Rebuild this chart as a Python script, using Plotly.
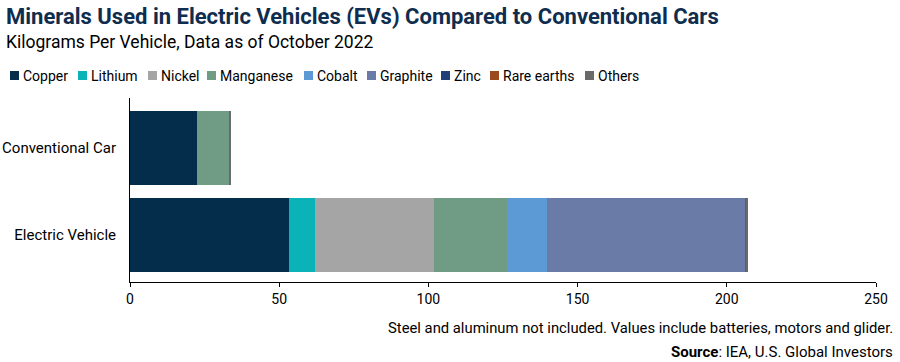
import plotly.graph_objects as go

categories = ["Conventional Car", "Electric Vehicle"]
minerals = ["Copper", "Lithium", "Nickel", "Manganese", "Cobalt", "Graphite", "Zinc", "Rare earths", "Others"]
copper = [22.3, 53.2]
lithium = [0, 8.9]
nickel = [0, 39.9]
manganese = [11.2, 24.5]
cobalt = [0, 13.3]
graphite = [0, 66.3]
zinc = [0, 0.1]
rare_earths = [0, 0.5]
others = [0.3, 0.3]
series = [copper, lithium, nickel, manganese, cobalt, graphite, zinc, rare_earths, others]
colors = ["#042D4B", "#0AB3B8", "#A5A5A5", "#709C86", "#5B9AD5", "#6B7BA8", "#1F3F78", "#9B4A1B", "#6A6A6A"]
x_ticks = [0, 50, 100, 150, 200, 250]

# legend item left positions (px)
legend_x = [10, 78, 148, 207, 304, 367, 441, 490, 585]

FONT = "Roboto, sans-serif"
NAVY = "#0F2D4E"

L, R, T, B = 130, 24, 98, 80
W, H = 900, 362
PW, PH = W - L - R, H - T - B


def px(x):
    return (x - L) / PW


def py(y):
    return (H - B - y) / PH


fig = go.Figure()
for name, vals, col in zip(minerals, series, colors):
    fig.add_trace(go.Bar(
        y=categories, x=vals, name=name, orientation="h",
        marker=dict(color=col, line=dict(width=0)),
        showlegend=False,
    ))

fig.update_layout(
    barmode="stack",
    bargap=0.144,
    width=W, height=H,
    margin=dict(l=L, r=R, t=T, b=B),
    plot_bgcolor="white", paper_bgcolor="white",
    font=dict(family=FONT, size=14, color="#000000"),
    xaxis=dict(range=[0, 250], tickvals=x_ticks, showgrid=False, zeroline=False,
               showline=True, linecolor="#000000", linewidth=1,
               ticks="outside", ticklen=4, tickcolor="#000000",
               tickfont=dict(size=14), automargin=False),
    yaxis=dict(range=[1.54, -0.575], type="category", showgrid=False,
               showline=True, linecolor="#000000", linewidth=1,
               ticks="", ticklabelstandoff=10, tickfont=dict(size=15), automargin=False),
)

# legend (manual, to match reference spacing)
for name, col, lx in zip(minerals, colors, legend_x):
    fig.add_shape(type="rect", xref="paper", yref="paper",
                  x0=px(lx), x1=px(lx + 9), y0=py(80), y1=py(71),
                  fillcolor=col, line=dict(width=0))
    fig.add_annotation(text=name, xref="paper", yref="paper",
                       x=px(lx + 11), y=py(75.5), xanchor="left", yanchor="middle",
                       showarrow=False, font=dict(size=14, color="#000000", family=FONT))

fig.add_annotation(text="<b>Minerals Used in Electric Vehicles (EVs) Compared to Conventional Cars</b>",
                   xref="paper", yref="paper", x=px(4), y=py(17),
                   xanchor="left", yanchor="middle", showarrow=False,
                   font=dict(size=22, color=NAVY, family=FONT))
fig.add_annotation(text="Kilograms Per Vehicle, Data as of October 2022",
                   xref="paper", yref="paper", x=px(4), y=py(42),
                   xanchor="left", yanchor="middle", showarrow=False,
                   font=dict(size=17.5, color="#000000", family=FONT))
fig.add_annotation(text="Steel and aluminum not included. Values include batteries, motors and glider.",
                   xref="paper", yref="paper", x=px(895), y=py(328),
                   xanchor="right", yanchor="middle", showarrow=False,
                   font=dict(size=14.8, color="#000000", family=FONT))
fig.add_annotation(text="<b>Source</b>: IEA, U.S. Global Investors",
                   xref="paper", yref="paper", x=px(895), y=py(352),
                   xanchor="right", yanchor="middle", showarrow=False,
                   font=dict(size=15, color="#000000", family=FONT))

fig.write_html("out.html", config={"displayModeBar": False},
               post_script="document.body.style.margin='0';document.body.style.padding='0';")
